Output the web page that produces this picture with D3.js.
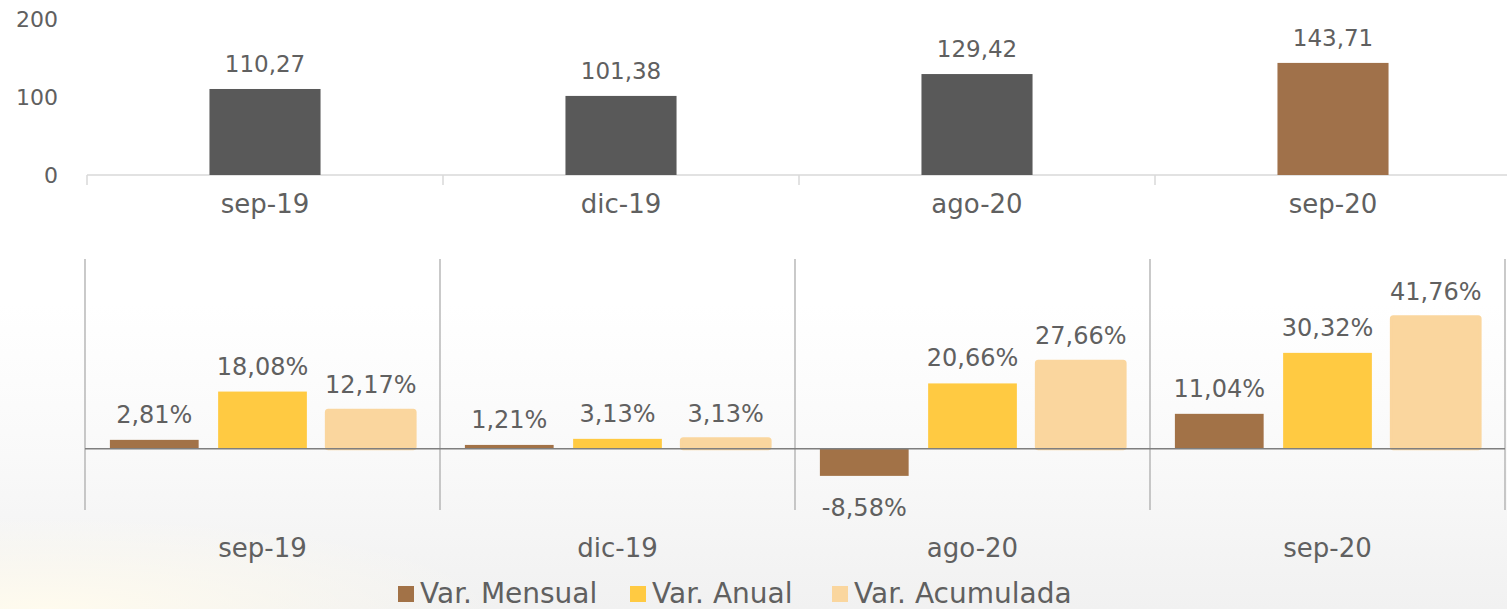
<!DOCTYPE html>
<html>
<head>
<meta charset="utf-8">
<script src="https://cdn.jsdelivr.net/npm/d3@7"></script>
<style>
  body { margin: 0; background: #fff; }
  svg text { font-family: "DejaVu Sans", sans-serif; fill: #606060; }
</style>
</head>
<body>
<svg id="chart" width="1507" height="609"></svg>
<script>
// periods shown on both panels
var periods = ['sep-19', 'dic-19', 'ago-20', 'sep-20'];
// top panel: index values
var indexValues = [110.27, 101.38, 129.42, 143.71];
var topTicks = [0, 100, 200];
// bottom panel: variations (%)
var seriesNames = ['Var. Mensual', 'Var. Anual', 'Var. Acumulada'];
var varMensual = [2.81, 1.21, -8.58, 11.04];
var varAnual = [18.08, 3.13, 20.66, 30.32];
var varAcumulada = [12.17, 3.13, 27.66, 41.76];
var seriesColors = ['#a27247', '#ffca42', '#fad69e'];

var svg = d3.select('#chart');
var fmt = function(v, dec) { return v.toFixed(dec).replace('.', ','); };

// background: white fading to a light grey, slightly warm bottom left
var defs = svg.append('defs');
var lg = defs.append('linearGradient').attr('id', 'bg').attr('x1', 0).attr('y1', 0).attr('x2', 0).attr('y2', 1);
lg.append('stop').attr('offset', '0%').attr('stop-color', '#ffffff');
lg.append('stop').attr('offset', '50%').attr('stop-color', '#ffffff');
lg.append('stop').attr('offset', '75%').attr('stop-color', '#f9f9f9');
lg.append('stop').attr('offset', '100%').attr('stop-color', '#f1f1f1');
var rg = defs.append('radialGradient').attr('id', 'glow').attr('cx', 0.03).attr('cy', 1).attr('r', 0.3);
rg.append('stop').attr('offset', '0%').attr('stop-color', '#fffbee').attr('stop-opacity', 1);
rg.append('stop').attr('offset', '100%').attr('stop-color', '#fffbee').attr('stop-opacity', 0);
svg.append('rect').attr('width', 1507).attr('height', 609).attr('fill', 'url(#bg)');
svg.append('rect').attr('y', 300).attr('width', 1507).attr('height', 309).attr('fill', 'url(#glow)');

// ---------- top panel ----------
var xTop = d3.scaleBand().domain(periods).range([87, 1511]).paddingInner(0.688).paddingOuter(0.344);
var yTop = d3.scaleLinear().domain([0, 200]).range([175, 19]);

svg.selectAll('text.ytick')
  .data(topTicks)
  .enter().append('text')
  .attr('class', 'ytick')
  .attr('x', 58)
  .attr('y', function(d) { return yTop(d) + 8; })
  .attr('text-anchor', 'end')
  .style('font-size', '22px')
  .text(function(d) { return d; });

svg.append('line')
  .attr('x1', 87).attr('x2', 1507)
  .attr('y1', yTop(0)).attr('y2', yTop(0))
  .attr('stroke', '#d9d9d9').attr('stroke-width', 1.5);

svg.selectAll('line.toptick')
  .data(periods)
  .enter().append('line')
  .attr('class', 'toptick')
  .attr('x1', function(d) { return xTop(d) - xTop.step() * xTop.paddingOuter(); })
  .attr('x2', function(d) { return xTop(d) - xTop.step() * xTop.paddingOuter(); })
  .attr('y1', yTop(0)).attr('y2', yTop(0) + 10)
  .attr('stroke', '#d9d9d9').attr('stroke-width', 1.5);

svg.selectAll('rect.topbar')
  .data(indexValues)
  .enter().append('rect')
  .attr('class', 'topbar')
  .attr('x', function(d, i) { return xTop(periods[i]); })
  .attr('y', function(d) { return yTop(d); })
  .attr('width', xTop.bandwidth())
  .attr('height', function(d) { return yTop(0) - yTop(d); })
  .attr('fill', function(d, i) { return i == periods.length - 1 ? '#a0714a' : '#595959'; });

svg.selectAll('text.toplabel')
  .data(indexValues)
  .enter().append('text')
  .attr('class', 'toplabel')
  .attr('x', function(d, i) { return xTop(periods[i]) + xTop.bandwidth() / 2; })
  .attr('y', function(d) { return yTop(d) - 17; })
  .attr('text-anchor', 'middle')
  .style('font-size', '23px')
  .text(function(d) { return fmt(d, 2); });

svg.selectAll('text.topcat')
  .data(periods)
  .enter().append('text')
  .attr('class', 'topcat')
  .attr('x', function(d) { return xTop(d) + xTop.bandwidth() / 2; })
  .attr('y', 213)
  .attr('text-anchor', 'middle')
  .style('font-size', '26px')
  .text(function(d) { return d; });

// ---------- bottom panel ----------
var xGroup = d3.scaleBand().domain(periods).range([85, 1505]);
var xSeries = d3.scaleBand().domain(seriesNames).range([0, xGroup.bandwidth()]).paddingInner(0.18).paddingOuter(0.23);
var yBot = d3.scaleLinear().domain([-20, 60]).range([512, 259]);

var allSeries = [varMensual, varAnual, varAcumulada];
var cells = [];
periods.forEach(function(p, i) {
  seriesNames.forEach(function(s, j) {
    cells.push({period: p, series: s, idx: j, value: allSeries[j][i]});
  });
});

svg.selectAll('line.sep')
  .data(periods.concat(['end']))
  .enter().append('line')
  .attr('class', 'sep')
  .attr('x1', function(d) { return d == 'end' ? 1505 : xGroup(d); })
  .attr('x2', function(d) { return d == 'end' ? 1505 : xGroup(d); })
  .attr('y1', 259).attr('y2', 510)
  .attr('stroke', '#a6a6a6').attr('stroke-width', 1.2);

svg.selectAll('rect.botbar')
  .data(cells)
  .enter().append('rect')
  .attr('class', 'botbar')
  .attr('x', function(d) { return xGroup(d.period) + xSeries(d.series); })
  .attr('y', function(d) { return yBot(Math.max(0, d.value)); })
  .attr('width', xSeries.bandwidth())
  .attr('height', function(d) { return Math.abs(yBot(d.value) - yBot(0)); })
  .attr('fill', function(d) { return seriesColors[d.idx]; })
  .attr('stroke', function(d) { return d.idx == 2 ? seriesColors[2] : 'none'; })
  .attr('stroke-width', function(d) { return d.idx == 2 ? 3 : 0; })
  .attr('rx', function(d) { return d.idx == 2 ? 2 : 0; });

svg.append('line')
  .attr('x1', 85).attr('x2', 1505)
  .attr('y1', yBot(0)).attr('y2', yBot(0))
  .attr('stroke', '#7f7f7f').attr('stroke-width', 1.5);

svg.selectAll('text.botlabel')
  .data(cells)
  .enter().append('text')
  .attr('class', 'botlabel')
  .attr('x', function(d) { return xGroup(d.period) + xSeries(d.series) + xSeries.bandwidth() / 2; })
  .attr('y', function(d) { return d.value >= 0 ? yBot(d.value) - 17 : yBot(d.value) + 40; })
  .attr('text-anchor', 'middle')
  .style('font-size', '24px')
  .text(function(d) { return fmt(d.value, 2) + '%'; });

svg.selectAll('text.botcat')
  .data(periods)
  .enter().append('text')
  .attr('class', 'botcat')
  .attr('x', function(d) { return xGroup(d) + xGroup.bandwidth() / 2; })
  .attr('y', 557)
  .attr('text-anchor', 'middle')
  .style('font-size', '26px')
  .text(function(d) { return d; });

// legend
var legendX = [398, 630, 832];
var legend = svg.selectAll('g.legend')
  .data(seriesNames)
  .enter().append('g')
  .attr('class', 'legend')
  .attr('transform', function(d, i) { return 'translate(' + legendX[i] + ',586)'; });
legend.append('rect')
  .attr('width', 16).attr('height', 16)
  .attr('fill', function(d, i) { return seriesColors[i]; });
legend.append('text')
  .attr('x', 22).attr('y', 17)
  .style('font-size', '28px')
  .text(function(d) { return d; });
</script>
</body>
</html>
